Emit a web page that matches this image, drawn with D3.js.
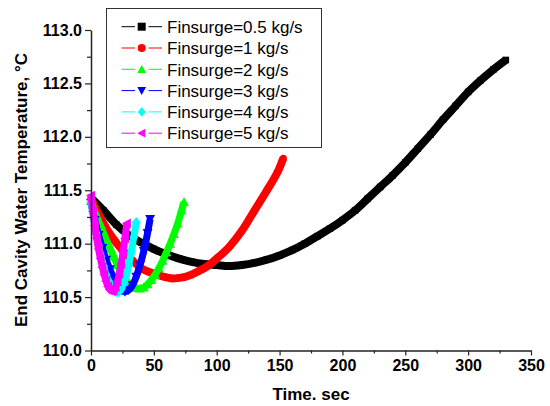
<!DOCTYPE html>
<html><head><meta charset="utf-8">
<script src="https://cdn.jsdelivr.net/npm/d3@7"></script>
<style>body{margin:0;background:#fff}svg{display:block}</style>
</head><body>
<div id="chart"></div>
<script>
// ---- data ----
const seriesNames = ["Finsurge=0.5 kg/s","Finsurge=1 kg/s","Finsurge=2 kg/s","Finsurge=3 kg/s","Finsurge=4 kg/s","Finsurge=5 kg/s"];
const colors = ["#000000","#ff0000","#00ff00","#0000ff","#00ffff","#ff00ff"];
const symbols = ["square","circle","triUp","triDown","diamond","triLeft"];

const t05 = [0,10,20,30,40,50,60,70,80,90,100,110,120,130,140,150,160,170,180,190,200,210,220,230,240,250,260,270,280,290,300,310,320,330];
const T05 = [111.43,111.31,111.18,111.08,111.01,110.95,110.90,110.86,110.83,110.81,110.80,110.79,110.80,110.82,110.85,110.89,110.94,111.00,111.07,111.14,111.22,111.31,111.42,111.53,111.64,111.76,111.89,112.02,112.16,112.29,112.42,112.53,112.63,112.72];

const t1 = [0,5,10,15,20,25,30,35,40,45,50,55,60,65,70,75,80,85,90,95,100,110,120,130,140,150,153];
const T1 = [111.42,111.30,111.19,111.09,111.01,110.94,110.88,110.82,110.77,110.74,110.72,110.70,110.685,110.675,110.68,110.69,110.71,110.74,110.77,110.81,110.86,110.97,111.12,111.31,111.50,111.71,111.80];

const t2 = [0,3,6,9,12,15,18,21,24,27,30,33,36,39,42,45,48,51,54,57,60,63,66,69,72,74];
const T2 = [111.40,111.30,111.21,111.13,111.04,110.96,110.88,110.80,110.73,110.67,110.63,110.60,110.585,110.58,110.59,110.62,110.66,110.71,110.77,110.84,110.92,111.00,111.09,111.19,111.31,111.39];

const t3 = [0,3,6,9,12,15,18,21,24,27,30,33,36,39,42,45,47];
const T3 = [111.38,111.22,111.08,110.96,110.85,110.76,110.68,110.61,110.565,110.55,110.565,110.61,110.69,110.80,110.93,111.10,111.23];

const t4 = [0,2,4,6,8,10,12,14,16,18,20,22,24,26,28,30,32,34,36];
const T4 = [111.40,111.24,111.10,110.98,110.88,110.79,110.71,110.65,110.60,110.565,110.55,110.55,110.575,110.63,110.70,110.80,110.92,111.06,111.20];

const t5 = [0,1.5,3,4.5,6,7.5,9,10.5,12,13.5,15,16.5,18,19.5,21,22.5,24,25.5,27,28.5];
const T5 = [111.45,111.30,111.17,111.05,110.95,110.86,110.78,110.71,110.65,110.60,110.57,110.555,110.56,110.595,110.645,110.72,110.81,110.92,111.05,111.19];

const xTicks = [0,50,100,150,200,250,300,350];
const yTicks = [110.0,110.5,111.0,111.5,112.0,112.5,113.0];
const xTitle = "Time. sec";
const yTitle = "End Cavity Water Temperature, °C";

const times = [t05,t1,t2,t3,t4,t5];
const temps = [T05,T1,T2,T3,T4,T5];

// ---- drawing ----
const W = 550, H = 406;
const svg = d3.select("#chart").append("svg").attr("width", W).attr("height", H);
const x = d3.scaleLinear().domain([0,350]).range([91,531]);
const y = d3.scaleLinear().domain([110,113]).range([350.5,30]);

function symPath(kind, s) {
  const h = s/2;
  switch (kind) {
    case "square": return `M${-h},${-h}H${h}V${h}H${-h}Z`;
    case "circle": return d3.symbol(d3.symbolCircle, s*s*0.8)();
    case "triUp": return `M0,${-h*1.1}L${h*1.1},${h*0.9}L${-h*1.1},${h*0.9}Z`;
    case "triDown": return `M0,${h*1.1}L${h*1.1},${-h*0.9}L${-h*1.1},${-h*0.9}Z`;
    case "diamond": return `M0,${-h*1.2}L${h*1.0},0L0,${h*1.2}L${-h*1.0},0Z`;
    case "triLeft": return `M${-h*1.1},0L${h*0.9},${-h*1.1}L${h*0.9},${h*1.1}Z`;
  }
}
const markerSize = [6.5,7,9,9,9,9];

const plot = svg.append("g");
const line = d3.line().x(d=>x(d[0])).y(d=>y(d[1])).curve(d3.curveMonotoneX);
times.forEach((ts,i)=>{
  const pts = ts.map((t,j)=>[t,temps[i][j]]);
  const g = plot.append("g");
  g.append("path").datum(pts).attr("d",line).attr("fill","none")
    .attr("stroke",colors[i]).attr("stroke-width",i<2?8:7).attr("stroke-linejoin","round");
  g.selectAll("path.m").data(pts).enter().append("path").attr("class","m")
    .attr("d",symPath(symbols[i],markerSize[i]))
    .attr("transform",d=>`translate(${x(d[0])},${y(d[1])})`)
    .attr("fill",colors[i]);
});

// axes
const axisColor = "#222";
const xAxis = d3.axisBottom(x).tickValues(xTicks).tickSize(5).tickSizeOuter(0).tickPadding(4).tickFormat(d3.format("d"));
const gx = svg.append("g").attr("transform",`translate(0,${y(110)})`).call(xAxis);
const xMinor = d3.axisBottom(x).tickValues(d3.range(25,350,50)).tickSize(3).tickSizeOuter(0).tickFormat("");
const gxm = svg.append("g").attr("transform",`translate(0,${y(110)})`).call(xMinor);
const yAxis = d3.axisLeft(y).tickValues(yTicks).tickSize(6).tickSizeOuter(0).tickPadding(3).tickFormat(d3.format(".1f"));
const gy = svg.append("g").attr("transform",`translate(${x(0)},0)`).call(yAxis);
const yMinor = d3.axisLeft(y).tickValues(d3.range(110.25,113,0.5)).tickSize(4).tickSizeOuter(0).tickFormat("");
const gym = svg.append("g").attr("transform",`translate(${x(0)},0)`).call(yMinor);
[gx,gxm,gy,gym].forEach(g=>{
  g.selectAll("path.domain").attr("stroke",axisColor).attr("stroke-width",1.5);
  g.selectAll(".tick line").attr("stroke",axisColor).attr("stroke-width",1.2);
  g.selectAll(".tick text").attr("fill","#000")
    .style("font-family","'Liberation Sans', Arial, sans-serif")
    .style("font-weight","bold").style("font-size","16px");
});
gxm.select("path.domain").remove();
gym.select("path.domain").remove();

// titles
svg.append("text").attr("x",311).attr("y",400).attr("text-anchor","middle")
  .style("font-family","'Liberation Sans', Arial, sans-serif").style("font-weight","bold").style("font-size","17px")
  .text(xTitle);
svg.append("text").attr("transform","translate(27,190) rotate(-90)").attr("text-anchor","middle")
  .style("font-family","'Liberation Sans', Arial, sans-serif").style("font-weight","bold").style("font-size","17px")
  .text(yTitle);

// legend
const lg = svg.append("g");
lg.append("rect").attr("x",106.5).attr("y",8.5).attr("width",215).attr("height",139)
  .attr("fill","#fff").attr("stroke","#333").attr("stroke-width",1);
seriesNames.forEach((name,i)=>{
  const cy = 26.7 + i*21.3;
  const r = lg.append("g").attr("transform",`translate(0,${cy})`);
  r.append("line").attr("x1",121.5).attr("x2",135).attr("y1",0).attr("y2",0).attr("stroke",colors[i]).attr("stroke-width",1);
  r.append("line").attr("x1",148.5).attr("x2",162).attr("y1",0).attr("y2",0).attr("stroke",colors[i]).attr("stroke-width",1);
  r.append("path").attr("d",symPath(symbols[i],8)).attr("transform","translate(141.7,0)").attr("fill",colors[i]);
  r.append("text").attr("x",167).attr("y",6.2)
    .style("font-family","'Liberation Sans', Arial, sans-serif").style("font-size","17px")
    .text(name);
});
</script>
</body></html>
